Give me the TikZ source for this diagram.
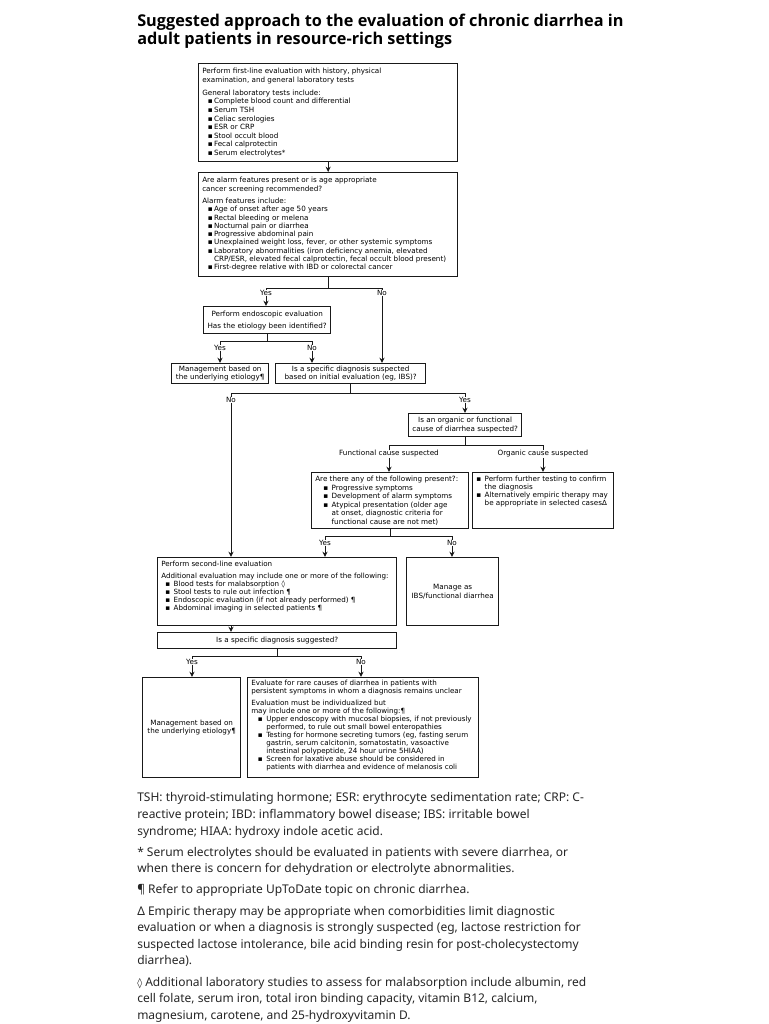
\documentclass[tikz,border=0pt]{standalone}
\usepackage{fontspec}
\setmainfont{Noto Sans}
\newfontfamily\ttlfont{Open Sans}
\newfontfamily\fcf{DejaVu Sans}
\usetikzlibrary{arrows.meta}
\newcommand\bulit[1][4.2pt]{\hspace*{#1}\makebox[4.6pt][l]{▪}}
\newcommand\contin[1][4.2pt]{\hspace*{#1}\hspace*{4.6pt}}
\begin{document}
\begin{tikzpicture}[x=0.75pt,y=-0.75pt,
 bx/.style={draw=black!90, line width=1pt, inner sep=0pt, anchor=north west},
 sz/.style 2 args={minimum width=#1*0.75pt, minimum height=#2*0.75pt},
 tx/.style={anchor=north west, inner sep=0pt, align=left, font=\fcf\fontsize{5.4}{6.4}\selectfont},
 ctx/.style={align=center, font=\fcf\fontsize{5.4}{6.4}\selectfont},
 lab/.style={inner sep=0pt, font=\fcf\fontsize{5.4}{6}\selectfont},
 ln/.style={line width=0.75pt, draw=black!90},
 arr/.style={ln, -{Stealth[length=4pt,width=3.8pt]}},
 fn/.style={anchor=base west, inner sep=0pt, text=black!85, font=\fontsize{9}{12}\selectfont},
 ttl/.style={anchor=base west, inner sep=0pt, font=\ttlfont\bfseries\fontsize{12.2}{14}\selectfont}
]
\useasboundingbox (0,0) rectangle (768,1024);
\fill[white] (0,0) rectangle (768,1024);

% title
\node[ttl] (t1) at (137,27) {Suggested approach to the evaluation of chronic diarrhea in};
\node[ttl] (t2) at (137,45) {adult patients in resource-rich settings};

% box 1
\node[bx, sz={259}{98}] (b1) at (198,63) {};
\node[tx, font=\fcf\fontsize{5.4}{6.45}\selectfont] (b1t) at (202,68) {Perform first-line evaluation with history, physical\\
examination, and general laboratory tests\\[3.2pt]
General laboratory tests include:\\
\bulit Complete blood count and differential\\
\bulit Serum TSH\\
\bulit Celiac serologies\\
\bulit ESR or CRP\\
\bulit Stool occult blood\\
\bulit Fecal calprotectin\\
\bulit Serum electrolytes*};

% box 2
\node[bx, sz={259}{104}] (b2) at (198,172) {};
\node[tx, font=\fcf\fontsize{5.4}{6.2}\selectfont] (b2t) at (202,177) {Are alarm features present or is age appropriate\\
cancer screening recommended?\\[3.2pt]
Alarm features include:\\
\bulit Age of onset after age 50 years\\
\bulit Rectal bleeding or melena\\
\bulit Nocturnal pain or diarrhea\\
\bulit Progressive abdominal pain\\
\bulit Unexplained weight loss, fever, or other systemic symptoms\\
\bulit Laboratory abnormalities (iron deficiency anemia, elevated\\
\contin CRP/ESR, elevated fecal calprotectin, fecal occult blood present)\\
\bulit First-degree relative with IBD or colorectal cancer};

\draw[arr] (b1.south) -- (b2.north);

% branch 1
\coordinate (bar1) at (0,288);
\node[lab] (y1) at (266,293) {Yes};
\node[lab] (n1) at (382,293) {No};
\draw[ln] (b2.south) -- (b2.south |- bar1);
\draw[ln] (y1.north) -- (y1.north |- bar1) -- (n1.north |- bar1) -- (n1.north);

\node[bx, sz={127}{27}, ctx] (endo) at (203,306) {Perform endoscopic evaluation\\[2.5pt] Has the etiology been identified?};
\draw[arr] (y1.south) -- (y1.south |- endo.north);

% branch 2
\coordinate (bar2) at (0,341);
\node[lab] (y2) at (220,348) {Yes};
\node[lab] (n2) at (312,348) {No};
\draw[ln] (endo.south) -- (endo.south |- bar2);
\draw[ln] (y2.north) -- (y2.north |- bar2) -- (n2.north |- bar2) -- (n2.north);

\node[bx, sz={97}{20}, ctx] (m1) at (171,363) {Management based on\\the underlying etiology¶};
\node[bx, sz={150}{20}, ctx] (s1) at (275,363) {Is a specific diagnosis suspected\\based on initial evaluation (eg, IBS)?};
\draw[arr] (y2.south) -- (y2.south |- m1.north);
\draw[arr] (n2.south) -- (n2.south |- s1.north);
\draw[arr] (n1.south) -- (n1.south |- s1.north);

% branch 3
\coordinate (bar3) at (0,393);
\node[lab] (n3) at (231,400) {No};
\node[lab] (y3) at (465,400) {Yes};
\draw[ln] (s1.south) -- (s1.south |- bar3);
\draw[ln] (n3.north) -- (n3.north |- bar3) -- (y3.north |- bar3) -- (y3.north);

\node[bx, sz={113}{23}, ctx] (of) at (408,413) {Is an organic or functional\\cause of diarrhea suspected?};
\draw[arr] (y3.south) -- (y3.south |- of.north);

% branch 4
\coordinate (bar4) at (0,445);
\node[lab] (fc) at (389,454) {Functional cause suspected};
\node[lab] (oc) at (543,454) {Organic cause suspected};
\draw[ln] (of.south) -- (of.south |- bar4);
\draw[ln] (fc.north) -- (fc.north |- bar4) -- (oc.north |- bar4) -- (oc.north);

\node[bx, sz={157}{56}] (fb) at (311,472) {};
\node[tx, font=\fcf\fontsize{5.4}{6.35}\selectfont] (fbt) at (315,476) {Are there any of the following present?:\\
\bulit[6pt] Progressive symptoms\\
\bulit[6pt] Development of alarm symptoms\\
\bulit[6pt] Atypical presentation (older age\\
\contin[6pt] at onset, diagnostic criteria for\\
\contin[6pt] functional cause are not met)};

\node[bx, sz={141}{56}] (ob) at (472,472) {};
\node[tx, font=\fcf\fontsize{5.4}{6.0}\selectfont] (obt) at (476,476) {\bulit[0pt] Perform further testing to confirm\\
\contin[0pt] the diagnosis\\
\bulit[0pt] Alternatively empiric therapy may\\
\contin[0pt] be appropriate in selected cases∆};

\draw[arr] (fc.south) -- (fc.south |- fb.north);
\draw[arr] (oc.south) -- (oc.south |- ob.north);

% branch 5
\coordinate (bar5) at (0,536);
\node[lab] (y5) at (325,543) {Yes};
\node[lab] (n5) at (452,543) {No};
\draw[ln] (fb.south) -- (fb.south |- bar5);
\draw[ln] (y5.north) -- (y5.north |- bar5) -- (n5.north |- bar5) -- (n5.north);

\node[bx, sz={239}{68}] (sec) at (157,557) {};
\node[tx, font=\fcf\fontsize{5.35}{5.9}\selectfont] (sect) at (161,561) {Perform second-line evaluation\\[3.2pt]
Additional evaluation may include one or more of the following:\\
\bulit[3pt] Blood tests for malabsorption ◊\\
\bulit[3pt] Stool tests to rule out infection ¶\\
\bulit[3pt] Endoscopic evaluation (if not already performed) ¶\\
\bulit[3pt] Abdominal imaging in selected patients ¶};

\node[bx, sz={92}{68}, ctx] (ibs) at (406,557) {Manage as\\IBS/functional diarrhea};

\draw[arr] (n3.south) -- (n3.south |- sec.north);
\draw[arr] (y5.south) -- (y5.south |- sec.north);
\draw[arr] (n5.south) -- (n5.south |- ibs.north);

\node[bx, sz={239}{16}, ctx] (s2) at (157,632) {Is a specific diagnosis suggested?};
\draw[arr] (sec.south -| n3) -- (s2.north -| n3);

% branch 6
\coordinate (bar6) at (0,656);
\node[lab] (y6) at (192,662) {Yes};
\node[lab] (n6) at (361,662) {No};
\draw[ln] (s2.south) -- (s2.south |- bar6);
\draw[ln] (y6.north) -- (y6.north |- bar6) -- (n6.north |- bar6) -- (n6.north);

\node[bx, sz={98}{100}, ctx] (m2) at (142,677) {Management based on\\the underlying etiology¶};
\node[bx, sz={231}{100}] (ev) at (247,677) {};
\node[tx, font=\fcf\fontsize{5.35}{5.95}\selectfont] (evt) at (251,680) {Evaluate for rare causes of diarrhea in patients with\\
persistent symptoms in whom a diagnosis remains unclear\\[3.2pt]
Evaluation must be individualized but\\
may include one or more of the following:¶\\
\bulit[5pt] Upper endoscopy with mucosal biopsies, if not previously\\
\contin[5pt] performed, to rule out small bowel enteropathies\\
\bulit[5pt] Testing for hormone secreting tumors (eg, fasting serum\\
\contin[5pt] gastrin, serum calcitonin, somatostatin, vasoactive\\
\contin[5pt] intestinal polypeptide, 24 hour urine 5HIAA)\\
\bulit[5pt] Screen for laxative abuse should be considered in\\
\contin[5pt] patients with diarrhea and evidence of melanosis coli};

\draw[arr] (y6.south) -- (y6.south |- m2.north);
\draw[arr] (n6.south) -- (n6.south |- ev.north);

% footnotes
\node[fn] (f1) at (137,801) {TSH: thyroid-stimulating hormone; ESR: erythrocyte sedimentation rate; CRP: C-};
\node[fn] (f2) at (137,818) {reactive protein; IBD: inflammatory bowel disease; IBS: irritable bowel};
\node[fn] (f3) at (137,835) {syndrome; HIAA: hydroxy indole acetic acid.};
\node[fn] (f4) at (137,856) {* Serum electrolytes should be evaluated in patients with severe diarrhea, or};
\node[fn] (f5) at (137,872) {when there is concern for dehydration or electrolyte abnormalities.};
\node[fn] (f6) at (137,893) {¶ Refer to appropriate UpToDate topic on chronic diarrhea.};
\node[fn] (f7) at (137,915) {Δ Empiric therapy may be appropriate when comorbidities limit diagnostic};
\node[fn] (f8) at (137,931) {evaluation or when a diagnosis is strongly suspected (eg, lactose restriction for};
\node[fn] (f9) at (137,948) {suspected lactose intolerance, bile acid binding resin for post-cholecystectomy};
\node[fn] (f10) at (137,964) {diarrhea).};
\node[fn] (f11) at (137,986) {{\fcf\fontsize{7.5}{12}\selectfont ◊} Additional laboratory studies to assess for malabsorption include albumin, red};
\node[fn] (f12) at (137,1002) {cell folate, serum iron, total iron binding capacity, vitamin B12, calcium,};
\node[fn] (f13) at (137,1019) {magnesium, carotene, and 25-hydroxyvitamin D.};
\end{tikzpicture}
\end{document}
